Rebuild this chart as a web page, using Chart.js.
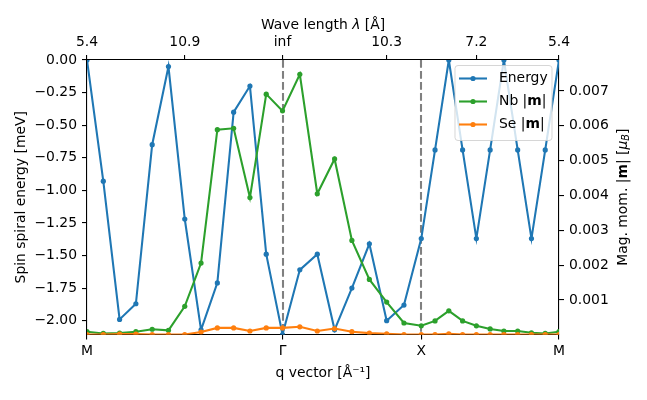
<!DOCTYPE html>
<html>
<head>
<meta charset="utf-8">
<script src="https://cdn.jsdelivr.net/npm/chart.js@4.4.1/dist/chart.umd.min.js"></script>
<style>
  html, body { margin: 0; padding: 0; background: #fff; }
  #wrap { width: 647px; height: 400px; }
</style>
</head>
<body>
<div id="wrap"><canvas id="chart" width="647" height="400"></canvas></div>
<script>
// q path M -> Γ -> X -> M  [Å^-1]
const qVector = [
  0.000, 0.097, 0.194, 0.291, 0.388, 0.485, 0.582, 0.679, 0.776, 0.873, 0.970, 1.067, 1.164,
  1.267, 1.371, 1.474, 1.577, 1.681, 1.784, 1.887, 1.990,
  2.072, 2.154, 2.236, 2.318, 2.400, 2.482, 2.564, 2.646, 2.728, 2.810
];
const energy = [
  0.00, -0.93, -1.99, -1.87, -0.65, -0.05, -1.22, -2.07, -1.71, -0.40, -0.20, -1.49, -2.106,
  -1.61, -1.49, -2.07, -1.75, -1.41, -2.00, -1.88, -1.37,
  -0.69, 0.00, -0.69, -1.37, -0.69, 0.00, -0.69, -1.37, -0.69, 0.00
];
const nbMoment = [
  0.00009, 0.00004, 0.00005, 0.00009, 0.00016, 0.00013, 0.00082, 0.00206, 0.00589, 0.00593, 0.00394, 0.00691, 0.00643,
  0.00748, 0.00405, 0.00505, 0.00271, 0.00159, 0.00094, 0.00034, 0.00026,
  0.00040, 0.00069, 0.00040, 0.00026, 0.00017, 0.00011, 0.00011, 0.00006, 0.00004, 0.00009
];
const seMoment = [
  0.00001, 0.00001, 0.00002, 0.00002, 0.00001, 0.00001, 0.00001, 0.00008, 0.00020, 0.00020, 0.00011, 0.00020, 0.00020,
  0.00023, 0.00011, 0.00018, 0.00009, 0.00005, 0.00003, 0.00001, 0.00001,
  0.00001, 0.00003, 0.00001, 0.00001, 0.00001, 0.00001, 0.00001, 0.00001, 0.00001, 0.00001
];

const pathTicks = [0.000, 1.164, 1.990, 2.810];
const pathLabels = ["M", "Γ", "X", "M"];
const waveTickIdx = [0, 6, 12, 18, 24, 30];
const waveLabels = ["5.4", "10.9", "inf", "10.3", "7.2", "5.4"];
const energyTicks = [0, -0.25, -0.5, -0.75, -1, -1.25, -1.5, -1.75, -2];
const momentTicks = [0.001, 0.002, 0.003, 0.004, 0.005, 0.006, 0.007];

const FONT = "'DejaVu Sans', sans-serif";
const FS = 13.9;
const BLUE = "#1f77b4";
const GREEN = "#2ca02c";
const ORANGE = "#ff7f0e";

function toPoints(values) {
  return values.map((v, i) => ({ x: qVector[i], y: v }));
}

function drawRich(ctx, parts, x, y, rotate) {
  ctx.save();
  ctx.translate(x, y);
  if (rotate) ctx.rotate(-Math.PI / 2);
  ctx.textBaseline = "middle";
  ctx.textAlign = "left";
  let total = 0;
  parts.forEach((p) => {
    ctx.font = p.font;
    total += ctx.measureText(p.text).width;
  });
  let cx = -total / 2;
  parts.forEach((p) => {
    ctx.font = p.font;
    ctx.fillStyle = "#000";
    ctx.fillText(p.text, cx, p.dy || 0);
    cx += ctx.measureText(p.text).width;
  });
  ctx.restore();
}

const normal = `${FS}px ${FONT}`;
const bold = `bold ${FS}px ${FONT}`;
const italic = `oblique ${FS}px ${FONT}`;
const subItalic = `oblique 9.7px ${FONT}`;

const decorPlugin = {
  id: "decor",
  beforeDatasetsDraw(chart) {
    const { ctx, chartArea } = chart;
    const xs = chart.scales.x;
    ctx.save();
    ctx.strokeStyle = "#808080";
    ctx.lineWidth = 2.08;
    ctx.setLineDash([7.7, 3.3]);
    [pathTicks[1], pathTicks[2]].forEach((q) => {
      const px = Math.round(xs.getPixelForValue(q));
      ctx.beginPath();
      ctx.moveTo(px, chartArea.top);
      ctx.lineTo(px, chartArea.bottom);
      ctx.stroke();
    });
    ctx.restore();
  },
  afterDraw(chart) {
    const { ctx, chartArea } = chart;
    // axis titles with mixed fonts
    drawRich(ctx, [
      { text: "Wave length ", font: normal },
      { text: "λ", font: italic },
      { text: " [Å]", font: normal }
    ], (chartArea.left + chartArea.right) / 2, 25, false);
    drawRich(ctx, [
      { text: "Mag. mom. |", font: normal },
      { text: "m", font: bold },
      { text: "| [", font: normal },
      { text: "μ", font: italic },
      { text: "B", font: subItalic, dy: 3 },
      { text: "]", font: normal }
    ], 623, (chartArea.top + chartArea.bottom) / 2, true);

    // legend
    const bx = 455, by = 65.5, bw = 97, bh = 75, r = 3;
    ctx.save();
    ctx.beginPath();
    ctx.moveTo(bx + r, by);
    ctx.lineTo(bx + bw - r, by);
    ctx.quadraticCurveTo(bx + bw, by, bx + bw, by + r);
    ctx.lineTo(bx + bw, by + bh - r);
    ctx.quadraticCurveTo(bx + bw, by + bh, bx + bw - r, by + bh);
    ctx.lineTo(bx + r, by + bh);
    ctx.quadraticCurveTo(bx, by + bh, bx, by + bh - r);
    ctx.lineTo(bx, by + r);
    ctx.quadraticCurveTo(bx, by, bx + r, by);
    ctx.closePath();
    ctx.fillStyle = "rgba(255,255,255,0.8)";
    ctx.fill();
    ctx.strokeStyle = "rgba(204,204,204,0.8)";
    ctx.lineWidth = 1;
    ctx.stroke();

    const rows = [
      { color: BLUE, y: 78.5, parts: [{ text: "Energy", font: normal }] },
      { color: GREEN, y: 101.5, parts: [{ text: "Nb |", font: normal }, { text: "m", font: bold }, { text: "|", font: normal }] },
      { color: ORANGE, y: 124.5, parts: [{ text: "Se |", font: normal }, { text: "m", font: bold }, { text: "|", font: normal }] }
    ];
    rows.forEach((row) => {
      ctx.strokeStyle = row.color;
      ctx.lineWidth = 2.08;
      ctx.beginPath();
      ctx.moveTo(459, row.y);
      ctx.lineTo(487, row.y);
      ctx.stroke();
      ctx.fillStyle = row.color;
      ctx.beginPath();
      ctx.arc(473, row.y, 2.6, 0, Math.PI * 2);
      ctx.fill();
      let w = 0;
      row.parts.forEach((p) => { ctx.font = p.font; w += ctx.measureText(p.text).width; });
      drawRich(ctx, row.parts, 499 + w / 2, row.y, false);
    });
    ctx.restore();
  }
};

function axisGrid() {
  return { display: true, drawOnChartArea: false, drawTicks: true, tickLength: 5, color: "#000", lineWidth: 1.1 };
}

function lineSet(label, values, color, order, axis) {
  return {
    label,
    data: toPoints(values),
    borderColor: color,
    backgroundColor: color,
    borderWidth: 2.08,
    pointRadius: 2.6,
    pointHoverRadius: 2.6,
    pointBorderWidth: 0,
    tension: 0,
    order,
    yAxisID: axis
  };
}

new Chart(document.getElementById("chart"), {
  type: "line",
  data: {
    datasets: [
      lineSet("Energy", energy, BLUE, 3, "y"),
      lineSet("Nb |m|", nbMoment, GREEN, 2, "y2"),
      lineSet("Se |m|", seMoment, ORANGE, 1, "y2")
    ]
  },
  options: {
    responsive: false,
    devicePixelRatio: 1,
    animation: false,
    layout: { padding: 0 },
    plugins: {
      legend: { display: false },
      tooltip: { enabled: false }
    },
    scales: {
      x: {
        type: "linear",
        position: "bottom",
        min: 0,
        max: 2.810,
        grid: axisGrid(),
        border: { display: true, color: "#000", width: 1.1 },
        afterFit: (s) => { s.height = 65.5; },
        afterBuildTicks: (s) => { s.ticks = pathTicks.map((v) => ({ value: v })); },
        ticks: {
          autoSkip: false,
          maxRotation: 0,
          padding: 4,
          color: "#000",
          font: { family: FONT, size: FS },
          callback: (v, i) => pathLabels[i]
        },
        title: {
          display: true,
          text: "q vector [Å⁻¹]",
          color: "#000",
          font: { family: FONT, size: FS },
          padding: { top: 0, bottom: 18.7 }
        }
      },
      x2: {
        type: "linear",
        axis: "x",
        position: "top",
        min: 0,
        max: 2.810,
        grid: axisGrid(),
        border: { display: true, color: "#000", width: 1.1 },
        afterFit: (s) => { s.height = 60; },
        afterBuildTicks: (s) => { s.ticks = waveTickIdx.map((i) => ({ value: qVector[i] })); },
        ticks: {
          autoSkip: false,
          maxRotation: 0,
          padding: 4,
          color: "#000",
          font: { family: FONT, size: FS },
          callback: (v, i) => waveLabels[i]
        }
      },
      y: {
        type: "linear",
        position: "left",
        min: -2.106,
        max: 0,
        grid: axisGrid(),
        border: { display: true, color: "#000", width: 1.1 },
        afterFit: (s) => { s.width = 87; },
        afterBuildTicks: (s) => { s.ticks = energyTicks.map((v) => ({ value: v })); },
        ticks: {
          padding: 5,
          color: "#000",
          font: { family: FONT, size: FS },
          callback: (v) => v.toFixed(2).replace("-", "\u2212")
        },
        title: {
          display: true,
          text: "Spin spiral energy [meV]",
          color: "#000",
          font: { family: FONT, size: FS },
          padding: { top: 12.7, bottom: 0 }
        }
      },
      y2: {
        type: "linear",
        position: "right",
        min: 0.00001,
        max: 0.00789,
        grid: axisGrid(),
        border: { display: true, color: "#000", width: 1.1 },
        afterFit: (s) => { s.width = 88; },
        afterBuildTicks: (s) => { s.ticks = momentTicks.map((v) => ({ value: v })); },
        ticks: {
          padding: 5,
          color: "#000",
          font: { family: FONT, size: FS },
          callback: (v) => v.toFixed(3)
        }
      }
    }
  },
  plugins: [decorPlugin]
});
</script>
</body>
</html>
